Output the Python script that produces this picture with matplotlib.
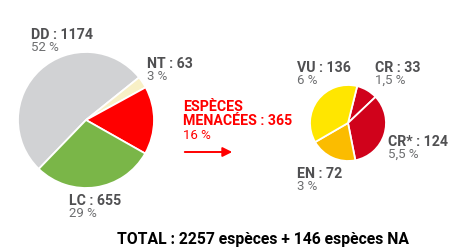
import matplotlib.pyplot as plt
from matplotlib.patches import FancyArrowPatch

plt.rcParams['font.family'] = ['Roboto', 'DejaVu Sans']

# main pie: all assessed species
main_labels = ['DD', 'NT', 'MENACEES', 'LC']
main_values = [1174, 63, 365, 655]
main_pcts = ['52 %', '3 %', '16 %', '29 %']
main_colors = ['#d1d2d4', '#f8f0c6', '#ff0000', '#7ab648']

# threatened species detail
threat_labels = ['CR', 'CR*', 'EN', 'VU']
threat_values = [33, 124, 72, 136]
threat_pcts = ['1,5 %', '5,5 %', '3 %', '6 %']
threat_colors = ['#d0021b', '#d0021b', '#fbbc00', '#ffe600']

total_txt = 'TOTAL : 2257 espèces + 146 espèces NA'

W, H = 460, 250
fig = plt.figure(figsize=(W / 100, H / 100), dpi=100)
ax = fig.add_axes([0, 0, 1, 1])

wedge = dict(edgecolor='white', linewidth=1.3)
ax.pie(main_values, colors=main_colors, startangle=226, counterclock=False,
       center=(86, H - 120), radius=68, wedgeprops=wedge)
ax.pie(threat_values, colors=threat_colors, startangle=76, counterclock=False,
       center=(348, H - 123), radius=38, wedgeprops=wedge)

ax.set_xlim(0, W)
ax.set_ylim(0, H)
ax.set_aspect('equal')
ax.axis('off')

GREY = '#505052'
GREY2 = '#6d6e70'


def label(x, y, name, value, pct, color=GREY, pcolor=GREY2):
    # y given as baseline in pixel rows from the top
    ax.text(x, H - y, f'{name} : {value}', color=color, fontsize=10.2,
            fontweight='bold', va='baseline', ha='left')
    ax.text(x, H - y - 12, pct, color=pcolor, fontsize=9.5, va='baseline', ha='left')


label(31, 39, 'DD', main_values[0], main_pcts[0])
label(147, 68, 'NT', main_values[1], main_pcts[1])
label(69, 205, 'LC', main_values[3], main_pcts[3])

label(297, 72, 'VU', threat_values[3], threat_pcts[3])
label(375, 72, 'CR', threat_values[0], threat_pcts[0])
label(388, 146, 'CR*', threat_values[1], threat_pcts[1])
label(297, 178, 'EN', threat_values[2], threat_pcts[2])

RED = '#ff0000'
ax.text(183, H - 111, 'ESPÈCES', color=RED, fontsize=10.2, fontweight='bold',
        va='baseline', ha='left')
ax.text(183, H - 125, f'MENACÉES : {main_values[2]}', color=RED, fontsize=10.2,
        fontweight='bold', va='baseline', ha='left')
ax.text(183, H - 139, main_pcts[2], color=RED, fontsize=9.5, va='baseline', ha='left')

ax.add_patch(FancyArrowPatch((182, H - 152), (235, H - 152), arrowstyle='-|>',
                             mutation_scale=14, color=RED, linewidth=1.4))

ax.text(117, H - 244, total_txt, color='black', fontsize=11.3, fontweight='bold',
        va='baseline', ha='left')

fig.savefig('out.png', dpi=100)
